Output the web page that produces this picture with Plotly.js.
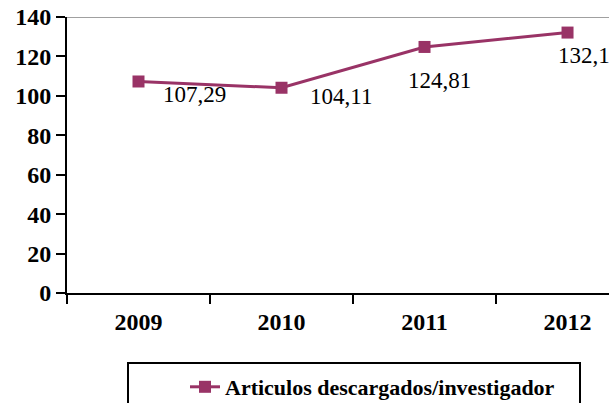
<!DOCTYPE html>
<html>
<head>
<meta charset="utf-8">
<script src="https://cdn.plot.ly/plotly-3.0.1.min.js"></script>
<style>html,body{margin:0;padding:0;background:#fff;}#chart{width:609px;height:403px;}</style>
</head>
<body>
<div id="chart"></div>
<script>
var years = ['2009', '2010', '2011', '2012'];
var values = [107.29, 104.11, 124.81, 132.1];
var valueLabels = ['107,29', '104,11', '124,81', '132,1'];
var yTicks = [0, 20, 40, 60, 80, 100, 120, 140];
var seriesName = 'Articulos descargados/investigador';

var color = '#993366';
var serif = '"Liberation Serif", "Times New Roman", serif';

var labelShift = [[56, -13], [59, -9], [15, -34], [16, -23]];

var trace = {
  x: years,
  y: values,
  type: 'scatter',
  mode: 'lines+markers',
  name: seriesName,
  line: {color: color, width: 3},
  marker: {symbol: 'square', size: 12, color: color},
  cliponaxis: false,
  hoverinfo: 'none'
};

var annotations = years.map(function (yr, i) {
  return {
    x: i, y: values[i], xref: 'x', yref: 'y',
    text: valueLabels[i], showarrow: false,
    xanchor: 'center', yanchor: 'middle',
    xshift: labelShift[i][0], yshift: labelShift[i][1],
    font: {family: serif, size: 23, color: '#000'}
  };
});

var layout = {
  width: 609, height: 403,
  margin: {l: 67, r: 0, t: 17, b: 110, autoexpand: false},
  paper_bgcolor: '#fff', plot_bgcolor: '#fff',
  showlegend: true,
  xaxis: {
    type: 'category',
    range: [-0.5, 3.29],
    tickson: 'boundaries',
    ticks: 'outside', ticklen: 9, tickwidth: 2, tickcolor: '#000',
    ticklabelstandoff: 6,
    showline: true, linecolor: '#000', linewidth: 2,
    showgrid: false, zeroline: false,
    tickfont: {family: serif, size: 24, color: '#000', weight: 'bold'},
    fixedrange: true
  },
  yaxis: {
    range: [0, 140],
    tickvals: yTicks,
    ticktext: yTicks.map(String),
    ticks: 'outside', ticklen: 9, tickwidth: 2, tickcolor: '#000',
    showline: true, linecolor: '#000', linewidth: 2,
    showgrid: false, zeroline: false,
    tickfont: {family: serif, size: 24, color: '#000', weight: 'bold'},
    fixedrange: true
  },
  shapes: [
    {type: 'line', xref: 'paper', yref: 'y', x0: 0, x1: 1, y0: 140, y1: 140,
     line: {color: '#808080', width: 1.5}},
    {type: 'rect', xref: 'paper', yref: 'paper',
     x0: (128 - 67) / 542, x1: (580 - 67) / 542,
     y0: (293 - 363) / 276, y1: (293 - 420) / 276,
     line: {color: '#000', width: 2}, fillcolor: 'rgba(0,0,0,0)'}
  ],
  legend: {
    x: (185 - 67) / 542, xanchor: 'left',
    y: (293 - 366) / 276, yanchor: 'top',
    bgcolor: 'rgba(0,0,0,0)', borderwidth: 0,
    font: {family: serif, size: 22, color: '#000', weight: 'bold'}
  },
  annotations: annotations
};

Plotly.newPlot('chart', [trace], layout, {displayModeBar: false, staticPlot: true});
</script>
</body>
</html>
